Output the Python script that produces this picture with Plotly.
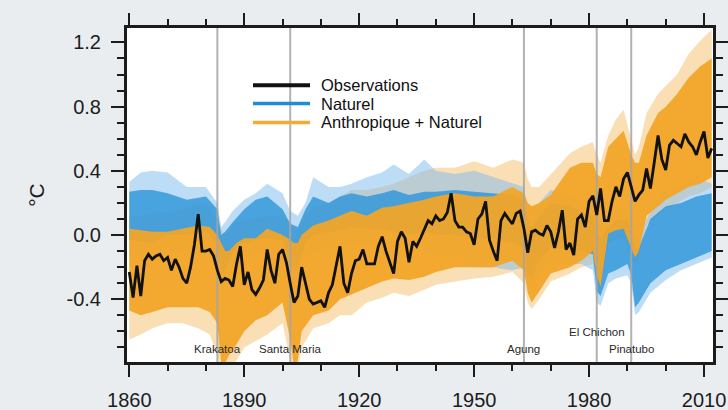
import plotly.graph_objects as go

# ---------------- data ----------------
obs_years = list(range(1860, 2013))
obs_values = [
    -0.23, -0.39, -0.19, -0.38, -0.16, -0.12, -0.15, -0.13, -0.12, -0.16,   # 1860s
    -0.14, -0.22, -0.15, -0.20, -0.27, -0.30, -0.20, -0.06, 0.13, -0.10,    # 1870s
    -0.10, -0.09, -0.13, -0.22, -0.29, -0.27, -0.28, -0.32, -0.18, -0.07,   # 1880s
    -0.31, -0.23, -0.34, -0.37, -0.33, -0.28, -0.09, -0.22, -0.30, -0.12,   # 1890s
    -0.09, -0.17, -0.30, -0.42, -0.38, -0.20, -0.30, -0.40, -0.43, -0.42,   # 1900s
    -0.41, -0.45, -0.36, -0.31, -0.18, -0.07, -0.30, -0.36, -0.24, -0.16,   # 1910s
    -0.15, -0.09, -0.18, -0.18, -0.18, -0.07, -0.01, -0.10, -0.17, -0.24,   # 1920s
    -0.04, 0.02, -0.02, -0.17, -0.04, -0.07, -0.02, 0.04, 0.09, 0.07,       # 1930s
    0.12, 0.09, 0.10, 0.14, 0.26, 0.09, 0.05, 0.05, 0.02, 0.01,             # 1940s
    -0.06, 0.10, 0.13, 0.21, -0.03, -0.10, -0.16, 0.09, 0.135, 0.10,        # 1950s
    0.07, 0.135, 0.15, 0.04, -0.11, 0.02, 0.03, 0.01, 0.00, 0.06,           # 1960s
    0.02, -0.08, 0.02, 0.155, -0.09, -0.05, -0.125, 0.10, 0.125, 0.05,      # 1970s
    0.21, 0.245, 0.125, 0.29, 0.09, 0.09, 0.21, 0.30, 0.24, 0.35,           # 1980s
    0.39, 0.30, 0.21, 0.25, 0.28, 0.415, 0.29, 0.45, 0.62, 0.47,            # 1990s
    0.405, 0.56, 0.59, 0.57, 0.55, 0.63, 0.58, 0.55, 0.50, 0.58,            # 2000s
    0.645, 0.48, 0.54,                                                      # 2010-2012
]

# Anthropique + Naturel ensemble: spread
anthro_years = [1860, 1863, 1866, 1870, 1874, 1878, 1881, 1883, 1884, 1885, 1886, 1888,
                1890, 1893, 1896, 1900, 1902, 1903, 1904, 1905, 1908, 1912, 1915, 1918,
                1922, 1926, 1929, 1933, 1937, 1940, 1945, 1950, 1955, 1960, 1963, 1964,
                1965, 1967, 1970, 1975, 1978, 1981, 1982, 1983, 1985, 1987, 1989, 1991,
                1992, 1993, 1995, 1998, 2000, 2003, 2006, 2009, 2012]
anthro_max = [0.12, 0.12, 0.14, 0.14, 0.16, 0.20, 0.18, 0.10, 0.03, 0.00, 0.03, 0.08,
              0.10, 0.10, 0.12, 0.12, 0.08, 0.03, 0.03, 0.08, 0.18, 0.20, 0.24, 0.28,
              0.28, 0.30, 0.32, 0.36, 0.40, 0.42, 0.42, 0.46, 0.42, 0.47, 0.45, 0.35,
              0.30, 0.30, 0.38, 0.51, 0.55, 0.58, 0.50, 0.45, 0.62, 0.72, 0.78, 0.60,
              0.50, 0.55, 0.76, 0.88, 0.93, 1.00, 1.13, 1.21, 1.28]
anthro_core_max = [0.04, 0.03, 0.02, 0.02, 0.04, 0.06, 0.05, 0.00, -0.05, -0.10, -0.10, -0.05,
                   -0.02, -0.02, 0.04, 0.00, -0.03, -0.05, -0.05, 0.00, 0.06, 0.09, 0.12, 0.15,
                   0.12, 0.17, 0.18, 0.20, 0.22, 0.24, 0.26, 0.24, 0.24, 0.30, 0.26, 0.20,
                   0.18, 0.20, 0.25, 0.42, 0.45, 0.45, 0.38, 0.36, 0.55, 0.60, 0.65, 0.50,
                   0.45, 0.45, 0.62, 0.76, 0.80, 0.88, 0.98, 1.05, 1.10]
anthro_core_min = [-0.47, -0.50, -0.48, -0.45, -0.45, -0.45, -0.48, -0.55, -0.80, -0.80, -0.75, -0.68,
                   -0.60, -0.53, -0.50, -0.42, -0.65, -0.82, -0.78, -0.60, -0.50, -0.47, -0.40, -0.37,
                   -0.33, -0.29, -0.27, -0.28, -0.26, -0.23, -0.20, -0.20, -0.20, -0.16, -0.22, -0.36,
                   -0.42, -0.35, -0.24, -0.20, -0.16, -0.10, -0.25, -0.32, 0.01, 0.03, 0.04, -0.08,
                   -0.14, -0.10, 0.12, 0.18, 0.22, 0.26, 0.30, 0.32, 0.36]
anthro_min = [-0.65, -0.62, -0.58, -0.55, -0.55, -0.58, -0.62, -0.75, -0.85, -0.85, -0.85, -0.78,
              -0.70, -0.66, -0.62, -0.55, -0.78, -0.85, -0.85, -0.70, -0.58, -0.55, -0.50, -0.50,
              -0.42, -0.39, -0.36, -0.38, -0.34, -0.31, -0.29, -0.27, -0.26, -0.23, -0.30, -0.42,
              -0.46, -0.40, -0.29, -0.24, -0.20, -0.18, -0.30, -0.35, -0.05, -0.03, -0.02, -0.14,
              -0.18, -0.15, 0.06, 0.12, 0.16, 0.20, 0.24, 0.26, 0.30]

# Naturel ensemble: spread
natural_years = [1860, 1863, 1866, 1870, 1875, 1880, 1883, 1884, 1885, 1887, 1890, 1893,
                 1896, 1900, 1902, 1904, 1906, 1908, 1912, 1915, 1918, 1922, 1926, 1929,
                 1933, 1937, 1940, 1945, 1950, 1955, 1960, 1963, 1964, 1965, 1967, 1970,
                 1975, 1978, 1981, 1982, 1983, 1985, 1987, 1990, 1991, 1992, 1993, 1996,
                 2000, 2004, 2008, 2012]
natural_max = [0.33, 0.39, 0.40, 0.39, 0.30, 0.30, 0.20, 0.05, 0.08, 0.15, 0.22, 0.26,
               0.32, 0.26, 0.15, 0.12, 0.20, 0.36, 0.30, 0.30, 0.32, 0.36, 0.39, 0.44,
               0.38, 0.47, 0.40, 0.38, 0.40, 0.36, 0.32, 0.30, 0.15, 0.12, 0.20, 0.28,
               0.25, 0.22, 0.20, 0.10, 0.05, 0.12, 0.15, 0.18, 0.12, 0.00, 0.00, 0.15,
               0.28, 0.30, 0.36, 0.32]
natural_core_max = [0.27, 0.28, 0.28, 0.26, 0.22, 0.24, 0.16, 0.00, 0.02, 0.08, 0.16, 0.22,
                    0.24, 0.16, 0.07, 0.05, 0.16, 0.24, 0.20, 0.24, 0.26, 0.24, 0.26, 0.28,
                    0.25, 0.27, 0.27, 0.28, 0.27, 0.26, 0.25, 0.22, 0.08, 0.05, 0.12, 0.20,
                    0.18, 0.15, 0.12, 0.00, -0.02, 0.05, 0.09, 0.10, 0.04, -0.08, -0.08, 0.10,
                    0.18, 0.20, 0.24, 0.26]
natural_core_min = [-0.03, -0.04, -0.05, 0.00, 0.00, 0.02, -0.05, -0.24, -0.22, -0.10, -0.05, -0.03,
                    -0.02, -0.03, -0.20, -0.20, -0.05, 0.00, 0.02, 0.02, 0.05, 0.04, 0.04, 0.02,
                    0.00, 0.02, 0.00, 0.00, -0.02, -0.02, -0.05, -0.08, -0.25, -0.27, -0.15, -0.08,
                    -0.08, -0.10, -0.12, -0.35, -0.38, -0.24, -0.22, -0.18, -0.25, -0.45, -0.42, -0.30,
                    -0.22, -0.18, -0.14, -0.10]
natural_min = [-0.12, -0.12, -0.12, -0.10, -0.10, -0.08, -0.15, -0.32, -0.30, -0.20, -0.15, -0.12,
               -0.10, -0.12, -0.25, -0.28, -0.12, -0.10, -0.08, -0.08, -0.05, -0.06, -0.06, -0.08,
               -0.10, -0.10, -0.12, -0.12, -0.20, -0.20, -0.22, -0.20, -0.32, -0.32, -0.25, -0.18,
               -0.18, -0.18, -0.22, -0.42, -0.44, -0.30, -0.27, -0.25, -0.30, -0.50, -0.48, -0.36,
               -0.28, -0.22, -0.18, -0.14]

volcano_names = ["Krakatoa", "Santa Maria", "Agung", "El Chichon", "Pinatubo"]
volcano_years = [1883, 1902, 1963, 1982, 1991]

series_names = ["Observations", "Naturel", "Anthropique + Naturel"]

x_tick_vals = [1860, 1890, 1920, 1950, 1980, 2010]
x_tick_text = ["1860", "1890", "1920", "1950", "1980", "2010"]
x_minor_vals = [1870, 1880, 1900, 1910, 1930, 1940, 1960, 1970, 1990, 2000]
y_tick_vals = [-0.4, 0.0, 0.4, 0.8, 1.2]
y_tick_text = ["-0.4", "0.0", "0.4", "0.8", "1.2"]
y_minor_vals = [-0.7, -0.6, -0.5, -0.3, -0.2, -0.1, 0.1, 0.2, 0.3, 0.5, 0.6, 0.7,
                0.9, 1.0, 1.1]

# ---------------- styling ----------------
X_RANGE = [1859.15, 2012.6]
Y_RANGE = [-0.797, 1.296]
FONT = "Liberation Sans, Arial, Helvetica, sans-serif"
INK = "#1c1c1c"
PAPER = "#e9edf0"
COL_OBS = "#111111"
COL_NAT = "#1f8dd6"
COL_NAT_CORE = "rgba(48,150,218,0.82)"
COL_NAT_EDGE = "rgba(135,192,236,0.55)"
COL_ANT = "#f5aa35"
COL_ANT_CORE = "rgba(242,165,40,0.95)"
COL_ANT_EDGE = "rgba(247,200,130,0.6)"


def band(xs, hi, lo, fillcolor, name):
    return go.Scatter(
        x=list(xs) + list(xs)[::-1],
        y=list(hi) + list(lo)[::-1],
        fill="toself", fillcolor=fillcolor, mode="lines",
        line=dict(width=0), hoverinfo="skip", showlegend=False, name=name,
    )


fig = go.Figure()
fig.add_trace(band(anthro_years, anthro_max, anthro_min, COL_ANT_EDGE, series_names[2]))
fig.add_trace(band(natural_years, natural_max, natural_min, COL_NAT_EDGE, series_names[1]))
fig.add_trace(band(natural_years, natural_core_max, natural_core_min, COL_NAT_CORE, series_names[1]))
fig.add_trace(band(anthro_years, anthro_core_max, anthro_core_min, COL_ANT_CORE, series_names[2]))

# volcanic eruption markers
vx, vy = [], []
for yr in volcano_years:
    vx += [yr, yr, None]
    vy += [Y_RANGE[0], Y_RANGE[1], None]
fig.add_trace(go.Scatter(x=vx, y=vy, mode="lines",
                         line=dict(color="rgba(165,165,165,0.85)", width=2),
                         hoverinfo="skip", showlegend=False))

fig.add_trace(go.Scatter(x=obs_years, y=obs_values, mode="lines", name=series_names[0],
                         line=dict(color=COL_OBS, width=2.8), showlegend=False))

# invisible copy on the mirrored (top / right) axes so those frame sides get ticks
fig.add_trace(go.Scatter(x=obs_years, y=obs_values, mode="lines", xaxis="x2", yaxis="y2",
                         line=dict(width=0), opacity=0, hoverinfo="skip", showlegend=False))

# volcano labels
label_level = {"El Chichon": -0.605}
for name, yr in zip(volcano_names, volcano_years):
    fig.add_annotation(x=yr, y=label_level.get(name, -0.71), text=name, showarrow=False,
                       xanchor="center", yanchor="middle",
                       font=dict(family=FONT, size=11.5, color="#2a2a2a"))

# legend (drawn manually so that line samples and spacing match)
legend_colors = [COL_OBS, COL_NAT, COL_ANT]
legend_widths = [4, 3.5, 3.5]
legend_rows = [0.827, 0.772, 0.716]
for name, col, w, ry in zip(series_names, legend_colors, legend_widths, legend_rows):
    fig.add_shape(type="line", xref="paper", yref="paper", x0=0.216, x1=0.313, y0=ry, y1=ry,
                  line=dict(color=col, width=w))
    fig.add_annotation(xref="paper", yref="paper", x=0.329, y=ry, text=name, showarrow=False,
                       xanchor="left", yanchor="middle",
                       font=dict(family=FONT, size=16.5, color="#111111"))

# plot frame
fig.add_shape(type="rect", xref="paper", yref="paper", x0=0, x1=1, y0=0, y1=1,
              line=dict(color=INK, width=2), fillcolor="rgba(0,0,0,0)", layer="above")

axis_common = dict(
    showline=True, linecolor=INK, linewidth=2,
    ticks="outside", tickcolor=INK, tickwidth=1.5,
    showgrid=False, zeroline=False, automargin=False,
    tickfont=dict(family=FONT, size=20, color=INK),
)
x_minor = dict(tickmode="array", tickvals=x_minor_vals, ticklen=6, ticks="outside",
               tickcolor=INK, tickwidth=1.5)
y_minor = dict(tickmode="array", tickvals=y_minor_vals, ticklen=7, ticks="outside",
               tickcolor=INK, tickwidth=1.5)

fig.update_layout(
    xaxis=dict(range=X_RANGE, tickmode="array", tickvals=x_tick_vals, ticktext=x_tick_text,
               ticklen=12, ticklabelstandoff=6, minor=x_minor, **axis_common),
    yaxis=dict(range=Y_RANGE, tickmode="array", tickvals=y_tick_vals, ticktext=y_tick_text,
               ticklen=13, ticklabelstandoff=6, minor=y_minor,
               title=dict(text="°C", font=dict(family=FONT, size=21, color=INK), standoff=16),
               **axis_common),
    xaxis2=dict(range=X_RANGE, overlaying="x", side="top", anchor="y", tickmode="array",
                tickvals=x_tick_vals, showticklabels=False, ticklen=12, minor=x_minor,
                **axis_common),
    yaxis2=dict(range=Y_RANGE, overlaying="y", side="right", anchor="x", tickmode="array",
                tickvals=y_tick_vals, showticklabels=False, ticklen=13, minor=y_minor,
                **axis_common),
    width=728, height=410,
    margin=dict(l=126, r=14, t=27, b=47),
    paper_bgcolor=PAPER, plot_bgcolor="#ffffff",
    showlegend=False,
)

fig.write_html(
    "out.html",
    config={"displayModeBar": False},
    post_script="document.body.style.margin='0';document.body.style.overflow='hidden';"
                "document.body.style.background='" + PAPER + "';",
)
